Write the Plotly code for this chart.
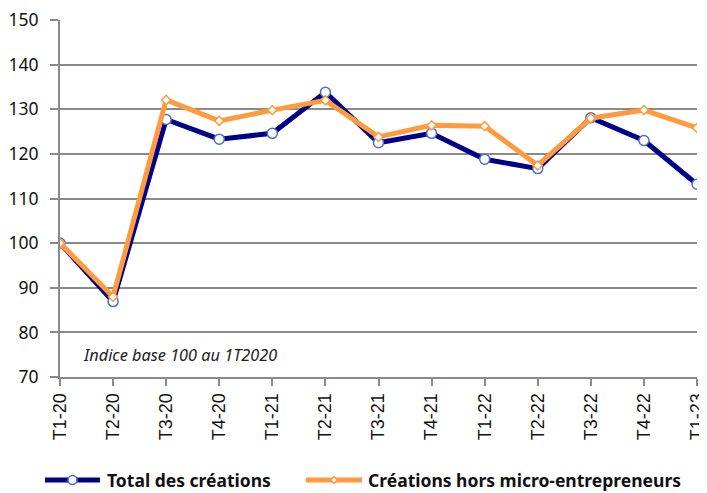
import plotly.graph_objects as go

categories = ["T1-20", "T2-20", "T3-20", "T4-20", "T1-21", "T2-21", "T3-21",
              "T4-21", "T1-22", "T2-22", "T3-22", "T4-22", "T1-23"]
total_creations = [100, 86.9, 127.7, 123.3, 124.6, 133.8, 122.5, 124.6, 118.8, 116.7, 128.1, 123.0, 113.2]
hors_micro = [100, 88.0, 132.1, 127.4, 129.8, 132.0, 123.8, 126.4, 126.2, 117.4, 128.0, 129.8, 125.8]
y_ticks = [70, 80, 90, 100, 110, 120, 130, 140, 150]
series_names = ["Total des créations", "Créations hors micro-entrepreneurs"]

FONT = "Noto Sans"
GRID = "#8a8a8a"
NAVY = "#000088"
NAVY_MK = "#4a6fc8"
ORANGE = "#ff9a3e"

fig = go.Figure()
fig.add_trace(go.Scatter(
    x=categories, y=total_creations, name=series_names[0],
    mode="lines+markers",
    line=dict(color=NAVY, width=5),
    marker=dict(symbol="circle", size=10, color="white",
                line=dict(color=NAVY_MK, width=1.5)),
))
fig.add_trace(go.Scatter(
    x=categories, y=hors_micro, name=series_names[1],
    mode="lines+markers",
    line=dict(color=ORANGE, width=5),
    marker=dict(symbol="diamond", size=7, color="white",
                line=dict(color=ORANGE, width=1.5)),
))

fig.add_annotation(
    x=0.033, y=75, xref="paper", yref="y",
    text="<i>Indice base 100 au 1T2020</i>", showarrow=False,
    xanchor="left", yanchor="middle",
    font=dict(family=FONT, size=16.3, color="#222222"),
)

# custom legend below the chart (longer symbol lines than plotly's own legend)
LEG_Y = -0.2885
legend_items = [
    dict(x0=-0.0235, x1=0.0628, color=NAVY, mk="circle", tx=0.0706),
    dict(x0=0.3862, x1=0.4741, color=ORANGE, mk="diamond", tx=0.4804),
]
for name, it in zip(series_names, legend_items):
    fig.add_shape(type="line", xref="paper", yref="paper",
                  x0=it["x0"], x1=it["x1"], y0=LEG_Y, y1=LEG_Y,
                  line=dict(color=it["color"], width=5))
    xm = (it["x0"] + it["x1"]) / 2
    if it["mk"] == "circle":
        fig.add_shape(type="circle", xref="paper", yref="paper",
                      xsizemode="pixel", ysizemode="pixel",
                      xanchor=xm, yanchor=LEG_Y, x0=-4.5, x1=4.5, y0=-4.5, y1=4.5,
                      fillcolor="white", line=dict(color=NAVY_MK, width=1.5))
    else:
        fig.add_shape(type="path", xref="paper", yref="paper",
                      xsizemode="pixel", ysizemode="pixel",
                      xanchor=xm, yanchor=LEG_Y,
                      path="M0,-3.5 L3.5,0 L0,3.5 L-3.5,0 Z",
                      fillcolor="white", line=dict(color=ORANGE, width=1.5))
    fig.add_annotation(x=it["tx"], y=LEG_Y, xref="paper", yref="paper",
                       text=f"<b>{name}</b>", showarrow=False,
                       xanchor="left", yanchor="middle",
                       font=dict(family=FONT, size=17.5, color="#111111"))

# page body has an 8px default margin: the figure is sized so the plot area
# lands where the reference has it
fig.update_layout(
    width=699, height=485,
    margin=dict(l=52, r=10, t=12, b=116),
    plot_bgcolor="white", paper_bgcolor="white",
    font=dict(family=FONT, color="#111111"),
    showlegend=False,
    xaxis=dict(
        type="category", range=[0, 12], tickangle=-90, automargin=False,
        showline=True, linecolor=GRID, linewidth=2,
        ticks="outside", ticklen=7, tickcolor=GRID, tickwidth=2,
        showgrid=False, ticklabeloverflow="allow",
        tickfont=dict(family="Liberation Sans", size=18, color="#111111"),
    ),
    yaxis=dict(
        range=[70, 150], tickvals=y_ticks, automargin=False,
        showline=True, linecolor=GRID, linewidth=2,
        ticks="outside", ticklen=8, tickcolor=GRID, tickwidth=2,
        showgrid=True, gridcolor=GRID, gridwidth=2,
        zeroline=False, ticklabeloverflow="allow", ticklabelstandoff=8,
        tickfont=dict(family=FONT, size=17.5, color="#111111"),
    ),
)

fig.write_html("out.html")
